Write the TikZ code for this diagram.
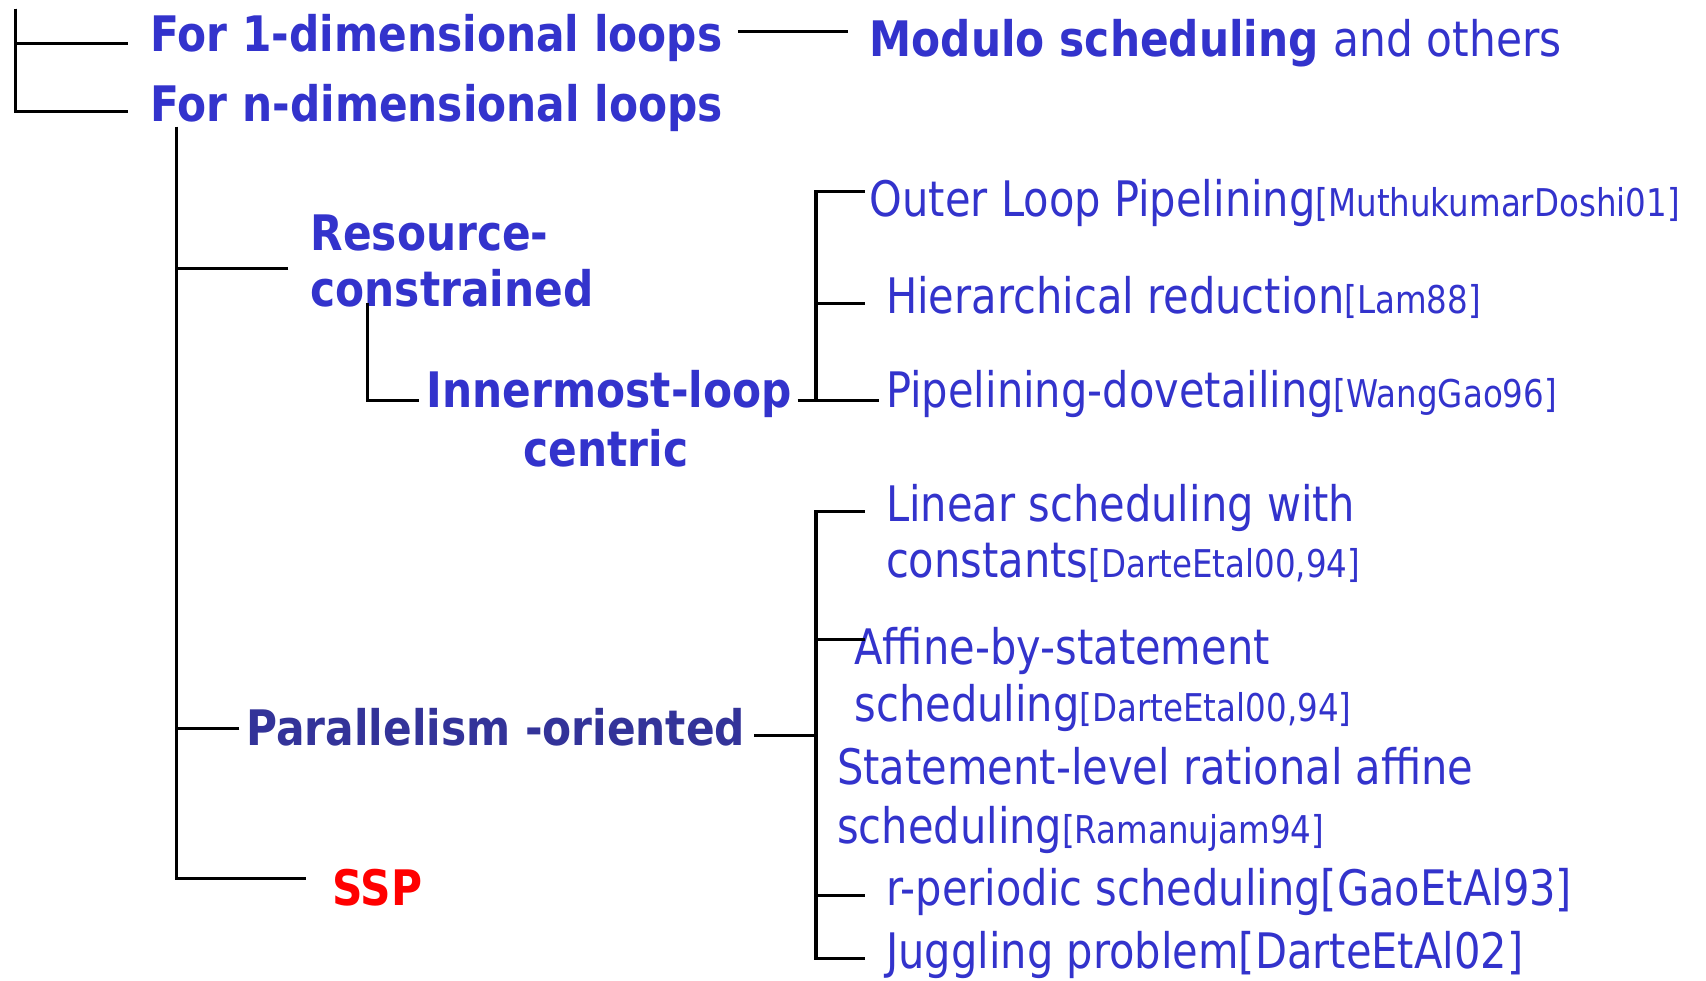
\documentclass[tikz,border=0pt]{standalone}
\usepackage{fontspec}
\setmainfont{DejaVu Sans}[FakeStretch=0.85]
\newfontfamily\headfont{DejaVu Sans}[FakeStretch=0.865]
\usetikzlibrary{calc}

\definecolor{itemblue}{HTML}{3333CC}
\definecolor{darkblue}{HTML}{333399}
\definecolor{sspred}{HTML}{FF0000}

\newcommand{\refnote}[1]{{\fontsize{10pt}{12pt}\selectfont[#1]}}

\begin{document}
\begin{tikzpicture}[x=0.1mm, y=-0.1mm, line width=0.8pt,
   txt/.style={anchor=base west, inner sep=0pt, text height=0.75em, text depth=0.23em,
      font=\fontsize{12.8pt}{15pt}\selectfont, text=itemblue},
   head/.style={txt, font=\fontsize{12.8pt}{15pt}\selectfont\headfont\bfseries},
   item/.style={txt}]

   \useasboundingbox (0,0) rectangle (1568,901);

   \node[head] (one1d) at (137,47.5) {For 1-dimensional loops};
   \node[head] (ndim) at (137,112) {For n-dimensional loops};
   \node[head] (modulo) at (798,52) {Modulo scheduling \mdseries and others};

   \node[head] (resource) at (284,230) {Resource-};
   \node[head] (resource2) at (284,282) {constrained};
   \node[head, anchor=base] (innermost) at (560,375) {Innermost-loop};
   \node[head, anchor=base] (centric) at (557,429) {centric};
   \node[head, text=darkblue] (parallel) at (225,685) {Parallelism -oriented};
   \node[head, text=sspred] (ssp) at (304,832) {SSP};

   \node[item] (outer) at (798,199) {Outer Loop Pipelining\refnote{MuthukumarDoshi01}};
   \node[item] (hier) at (813,288) {Hierarchical reduction\refnote{Lam88}};
   \node[item] (dovetail) at (813,375) {Pipelining-dovetailing\refnote{WangGao96}};

   \node[item] (linear) at (813,479.5) {Linear scheduling with};
   \node[item] (linear2) at (813,531) {constants\refnote{DarteEtal00,94}};
   \node[item] (affine) at (784,611) {Affine-by-statement};
   \node[item] (affine2) at (784,663) {scheduling\refnote{DarteEtal00,94}};
   \node[item] (ratl) at (768,721.5) {Statement-level rational affine};
   \node[item] (ratl2) at (768,775) {scheduling\refnote{Ramanujam94}};
   \node[item] (rper) at (813,832) {r-periodic scheduling[GaoEtAl93]};
   \node[item] (juggle) at (813,890) {Juggling problem[DarteEtAl02]};

   % top level
   \coordinate (top) at (14,8);
   \draw (top) |- ([xshift=-1.9mm,yshift=-0.2mm]one1d.west);
   \draw (top) |- ([xshift=-1.9mm]ndim.west);
   \coordinate (mlink) at ([xshift=1.3mm,yshift=0.9mm]one1d.east);
   \coordinate (mend) at ([xshift=-1.9mm]modulo.west);
   \draw (mlink) -- (mlink -| mend);

   % n-dimensional branch
   \coordinate (nstem) at ([xshift=2.5mm,yshift=0.5mm]ndim.south west);
   \draw (nstem) |- ([xshift=-2.3mm,yshift=1.5mm]ssp.west);
   \coordinate (rlink) at ($(resource.west)!0.5!(resource2.west)+(-19,0)$);
   \draw (rlink) -- (rlink -| nstem);
   \coordinate (plin) at ([xshift=-0.5mm,yshift=0.6mm]parallel.west);
   \draw (plin) -- (plin -| nstem);

   % resource-constrained
   \coordinate (rstem) at ([xshift=5.4mm,yshift=1.3mm]resource2.south west);
   \draw (rstem) |- ([xshift=-0.6mm,yshift=-0.2mm]innermost.west);
   \coordinate (rbus) at (750,0);
   \coordinate (ilink) at ([xshift=0.4mm,yshift=-0.2mm]innermost.east);
   \coordinate (dend) at ([xshift=-0.5mm]dovetail.west);
   \draw (ilink) -- (ilink -| dend);
   \draw ([xshift=-0.3mm,yshift=1.4mm]outer.west) -| (ilink -| rbus);
   \draw ([xshift=-1.8mm]hier.west) -- (hier.west -| rbus);

   % parallelism-oriented
   \coordinate (pbus) at (750,0);
   \coordinate (plink) at ([xshift=0.7mm]parallel.east);
   \draw (plink) -- (plink -| pbus);
   \draw ([xshift=-1.8mm]linear.west) -| (juggle.west -| pbus) -- ([xshift=-1.8mm]juggle.west);
   \coordinate (alink) at ([xshift=1.1mm,yshift=1.4mm]affine.west);
   \draw (alink) -- (alink -| pbus);
   \draw ([xshift=-1.8mm]rper.west) -- (rper.west -| pbus);

\end{tikzpicture}
\end{document}
